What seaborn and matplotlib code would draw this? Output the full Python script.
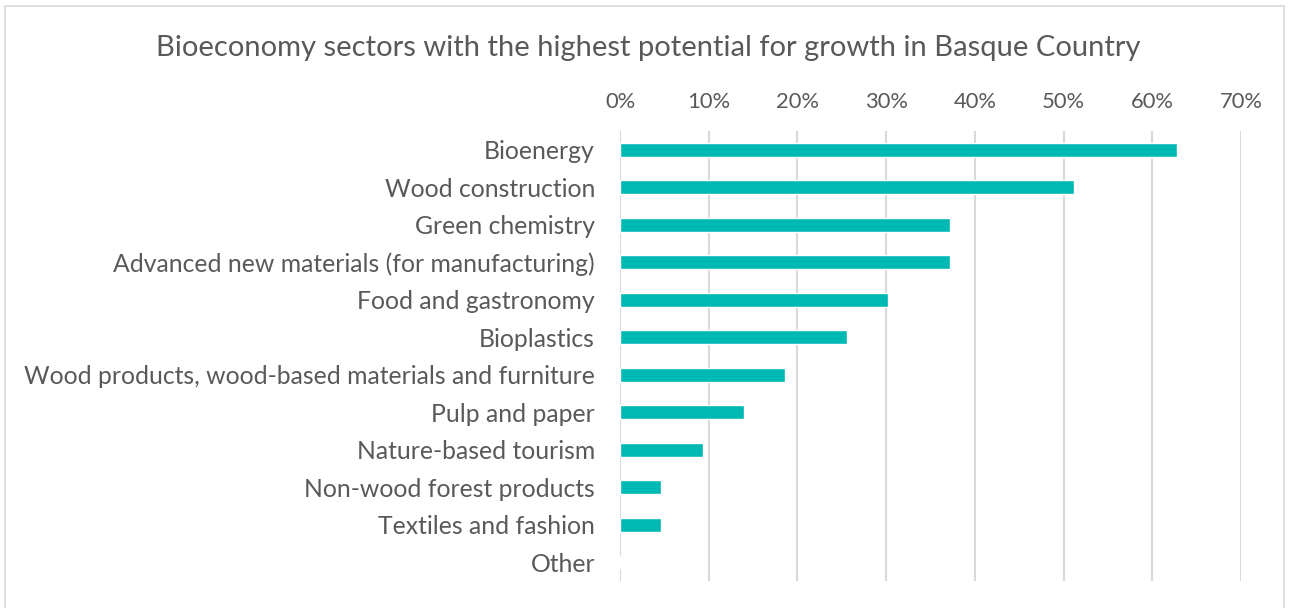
import matplotlib
matplotlib.use("Agg")
import matplotlib.pyplot as plt
import matplotlib.patches as mpatches
from matplotlib.ticker import PercentFormatter, MultipleLocator
import seaborn as sns
import pandas as pd

sectors = [
    "Bioenergy",
    "Wood construction",
    "Green chemistry",
    "Advanced new materials (for manufacturing)",
    "Food and gastronomy",
    "Bioplastics",
    "Wood products, wood-based materials and furniture",
    "Pulp and paper",
    "Nature-based tourism",
    "Non-wood forest products",
    "Textiles and fashion",
    "Other",
]
shares = [62.8, 51.2, 37.2, 37.2, 30.2, 25.6, 18.6, 14.0, 9.3, 4.65, 4.65, 0.0]

df = pd.DataFrame({"sector": sectors, "share": shares})

sns.set_theme(style="white")
plt.rcParams["font.family"] = ["Lato", "DejaVu Sans"]

text_color = "#595959"
bar_color = "#00B9B2"

fig = plt.figure(figsize=(12.89, 6.08), dpi=100)
ax = fig.add_axes([620 / 1289, 1 - 581 / 608, (1241 - 620) / 1289, (581 - 131) / 608])

sns.barplot(data=df, x="share", y="sector", orient="h", color=bar_color,
            width=0.38, saturation=1, ax=ax)

ax.set_xlim(0, 70)
ax.set_ylim(11.5, -0.5)
ax.xaxis.set_major_locator(MultipleLocator(10))
ax.xaxis.set_major_formatter(PercentFormatter(decimals=0))
ax.xaxis.tick_top()
ax.xaxis.set_label_position("top")
ax.set_xlabel("")
ax.set_ylabel("")
ax.grid(axis="x", color="#D9D9D9", linewidth=1.5)
ax.grid(axis="y", visible=False)
ax.set_axisbelow(True)
for s in ax.spines.values():
    s.set_visible(False)
ax.tick_params(axis="x", length=0, pad=14, labelsize=15.8, labelcolor=text_color)
ax.tick_params(axis="y", length=0, pad=18, labelsize=17.8, labelcolor=text_color)

fig.text(648 / 1289, 1 - 48 / 608, "Bioeconomy sectors with the highest potential for growth in Basque Country",
         ha="center", va="center", fontsize=21, color=text_color)

fig.patches.append(mpatches.Rectangle((5 / 1289, -0.01), 1279 / 1289, 1 - 6 / 608 + 0.01,
                                      transform=fig.transFigure, fill=False,
                                      edgecolor="#D9D9D9", linewidth=1.2))

fig.savefig("out.png", dpi=100)
